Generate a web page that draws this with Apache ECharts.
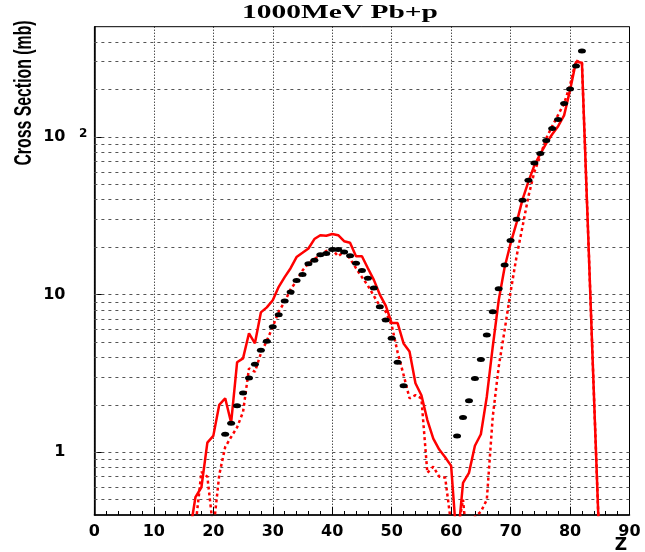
<!DOCTYPE html>
<html><head><meta charset="utf-8">
<script src="https://cdn.jsdelivr.net/npm/echarts@6/dist/echarts.min.js"></script>
<style>html,body{margin:0;padding:0;background:#fff}#c{width:645px;height:552px}</style>
</head><body><div id="c"></div>
<script>
// ---- data ----
const expZ  = [22,23,24,25,26,27,28,29,30,31,32,33,34,35,36,37,38,39,40,41,42,43,44,45,46,47,48,49,50,51,52,
               61,62,63,64,65,66,67,68,69,70,71,72,73,74,75,76,77,78,79,80,81,82];
const expCS = [1.30,1.53,1.97,2.38,2.96,3.61,4.43,5.05,6.25,7.45,9.1,10.4,12.3,13.4,15.7,16.5,17.9,18.2,19.3,19.3,18.6,17.6,15.8,14.2,12.7,11.0,8.37,6.89,5.28,3.72,2.64,
               1.27,1.66,2.12,2.94,3.88,5.54,7.78,10.9,15.4,22.0,30.1,39.7,53.2,68.4,78.5,94.9,113,129,163,201,282,351];

const solidZ  = [16,17,18,19,20,21,22,23,24,25,26,27,28,29,30,31,32,33,34,35,36,37,38,39,40,41,42,43,44,45,46,47,48,49,50,
                 51,52,53,54,55,56,57,58,59,60,61,62,63,64,65,66,67,68,69,70,71,72,73,74,75,76,77,78,79,80,81,82,83,84,85];
const solidCS = [0.3,0.52,0.6,1.15,1.27,2.0,2.2,1.54,3.72,3.94,5.68,4.91,7.71,8.3,9.2,11.2,12.9,14.7,17.3,18.4,19.6,22.5,23.8,23.6,24.2,23.8,21.8,21.3,17.5,17.5,14.7,12.4,10.0,8.5,6.6,
                 6.6,4.9,4.35,2.74,2.3,1.6,1.22,1.04,0.93,0.82,0.25,0.64,0.74,1.1,1.3,2.25,4.67,9.2,14.9,21.1,28.5,40,52,66,78,91,104,117,137,198,300,295,27,2.4,0.22];

const dashZ  = [17,18,19,20,21,22,23,24,25,26,27,28,29,30,31,32,33,34,35,36,37,38,39,40,41,42,43,44,45,46,47,48,49,50,
                51,52,53,54,55,56,57,58,59,60,61,62,63,64,65,66,67,68,69,70,71,72,73,74,75,76,77,78,79,80,81,82,83,84,85];
const dashCS = [0.34,0.75,0.70,0.32,0.72,1.08,1.25,1.44,1.8,3.4,3.24,4.24,5.1,6.25,7.8,9.0,10.8,12.2,14.2,15.8,16.8,17.8,18.9,19.3,17.5,18.7,16.9,14.7,12.9,11.4,9.8,8.5,7.8,6.4,
                4.3,3.1,2.2,2.3,2.2,0.74,0.81,0.70,0.69,0.35,0.3,0.5,0.2,0.39,0.42,0.5,1.68,3.48,5.96,10.4,17.4,26.9,42,60,76,98,117,138,163,213,305,295,27,2.4,0.22];

const xTickLabels = ['0','10','20','30','40','50','60','70','80','90'];
const yTickValues = [1, 10, 100];
const yTickBase   = ['1', '10', '10'];
const yTickSup    = ['', '', '2'];

const titleText = '1000MeV Pb+p';
const yName = 'Cross Section (mb)';
const xName = 'Z';

// helper: log grid values (1..9 x 10^d) inside the axis range
const Y_MIN = 0.4, Y_MAX = 500;
const gridVals = [];
for (let d = -1; d <= 2; d++) for (let k = 1; k <= 9; k++) {
  const v = k * Math.pow(10, d);
  if (v > Y_MIN * 1.001 && v < Y_MAX * 0.999) gridVals.push(v);
}

const zip = (a, b) => a.map((x, i) => [x, b[i]]);

const chart = echarts.init(document.getElementById('c'), null, {renderer: 'canvas'});
chart.setOption({
  animation: false,
  backgroundColor: '#fff',
  grid: {left: 94.4, right: 15.5, top: 26.7, bottom: 37, show: true, borderColor: '#000', borderWidth: 1, backgroundColor: 'transparent'},
  xAxis: {
    type: 'value', min: 0, max: 90, interval: 10,
    axisLine: {show: true, onZero: false, lineStyle: {color: '#000', width: 1.5}},
    axisTick: {show: true, inside: true, length: 8, lineStyle: {color: '#000'}},
    minorTick: {show: true, splitNumber: 5, length: 4, lineStyle: {color: '#000'}},
    splitLine: {show: true, lineStyle: {color: '#000', type: [1, 2], width: 1}},
    axisLabel: {
      margin: 9, color: '#000', fontFamily: 'DejaVu Sans', fontWeight: 'bold', fontSize: 16,
      formatter: (v) => xTickLabels[Math.round(v / 10)] ?? ''
    }
  },
  yAxis: {
    type: 'log', logBase: 10, min: Y_MIN, max: Y_MAX,
    axisLine: {show: true, lineStyle: {color: '#000', width: 1.5}},
    axisTick: {show: true, inside: true, length: 8, lineStyle: {color: '#000'}},
    splitLine: {show: false},
    axisLabel: {
      margin: 4, color: '#000', showMinLabel: false, showMaxLabel: false,
      formatter: (v) => {
        const i = yTickValues.findIndex(t => Math.abs(t - v) / t < 1e-6);
        if (i < 0) return '';
        return '{b|' + yTickBase[i] + '}{s|' + (yTickSup[i] || ' ') + '}';
      },
      rich: {
        b: {fontFamily: 'DejaVu Sans', fontWeight: 'bold', fontSize: 16, color: '#000', lineHeight: 18},
        s: {fontFamily: 'DejaVu Sans', fontWeight: 'bold', fontSize: 12, color: '#000', width: 22, align: 'right', verticalAlign: 'top', lineHeight: 18, padding: [0, 3, 6, 0]}
      }
    }
  },
  series: [
    {
      name: 'dashed', type: 'line', data: zip(dashZ, dashCS), showSymbol: false, symbol: 'none', z: 3,
      lineStyle: {color: '#ff0000', width: 2.5, type: [3, 3]}, clip: true,
      markLine: {
        silent: true, symbol: 'none', z: 1, animation: false,
        label: {show: false},
        lineStyle: {color: '#555', type: [3, 4], width: 1},
        data: gridVals.map(v => ({yAxis: v}))
      }
    },
    {
      name: 'solid', type: 'line', data: zip(solidZ, solidCS), showSymbol: false, symbol: 'none', z: 4,
      lineStyle: {color: '#ff0000', width: 2.5}, clip: true
    },
    {
      name: 'exp', type: 'scatter', data: zip(expZ, expCS), symbol: 'circle', symbolSize: [8, 5], z: 5,
      itemStyle: {color: '#000', opacity: 1}
    }
  ],
  graphic: [
    {type: 'text', x: 340, y: 4, scaleX: 1.55, z: 10,
     style: {text: titleText, font: 'bold 19px "Liberation Serif"', fill: '#000', textAlign: 'center', textVerticalAlign: 'top'}},
    {type: 'text', x: 24, y: 93, rotation: Math.PI / 2, scaleX: 0.66, z: 10,
     style: {text: yName, font: 'bold 24px "Liberation Sans"', fill: '#000', textAlign: 'center', textVerticalAlign: 'middle'}},
    {type: 'text', x: 621, y: 537, z: 10,
     style: {text: xName, font: 'bold 17px "DejaVu Sans"', fill: '#000', textAlign: 'center', textVerticalAlign: 'top'}}
  ]
});
</script>
</body></html>
